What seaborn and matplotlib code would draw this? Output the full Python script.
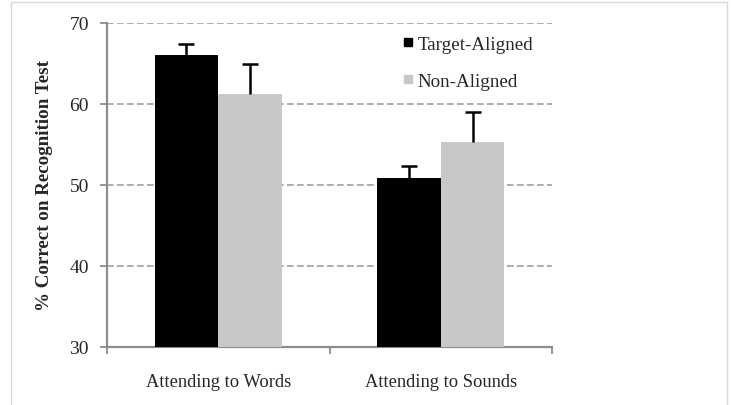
import matplotlib
matplotlib.use("Agg")
import matplotlib.pyplot as plt
from matplotlib.patches import Rectangle
from matplotlib.lines import Line2D
import seaborn as sns
import pandas as pd

categories = ["Attending to Words", "Attending to Sounds"]
conditions = ["Target-Aligned", "Non-Aligned"]
target_aligned = [66.0, 50.9]
non_aligned = [61.2, 55.3]
target_err = [1.4, 1.4]
non_err = [3.8, 3.7]
y_ticks = [30, 40, 50, 60, 70]

df = pd.DataFrame({
    "category": categories * 2,
    "condition": [conditions[0]] * 2 + [conditions[1]] * 2,
    "value": target_aligned + non_aligned,
    "err": target_err + non_err,
})

sns.set_theme(style="white")
plt.rcParams["font.family"] = ["Liberation Serif", "DejaVu Serif"]

fig = plt.figure(figsize=(7.32, 4.06), dpi=100)
ax = fig.add_axes([107 / 732, 1 - 348 / 406, 445 / 732, 324 / 406])

# light frame around the chart area
fig.patches.append(Rectangle((11 / 732, -0.05), 716 / 732, 1 - 3 / 406 + 0.05,
                             transform=fig.transFigure, fill=False,
                             edgecolor="#d9d9d9", linewidth=1.0, zorder=0))

colors = {"Target-Aligned": "#000000", "Non-Aligned": "#c8c8c8"}
sns.barplot(data=df, x="category", y="value", hue="condition",
            hue_order=conditions, order=categories, palette=colors,
            width=0.571, gap=0, errorbar=None, saturation=1,
            edgecolor="none", linewidth=0, ax=ax, legend=False, zorder=3)

# upper-only error bars on each bar
for cont, cond in zip(ax.containers, conditions):
    sub = df[df["condition"] == cond].set_index("category").loc[categories]
    xs = [p.get_x() + p.get_width() / 2 for p in cont.patches]
    eb = ax.errorbar(xs, sub["value"], yerr=[[0] * len(xs), sub["err"]],
                     fmt="none", ecolor="black", elinewidth=1.8, capsize=6,
                     capthick=1.8, zorder=4)
    caps = eb.lines[1]
    if len(caps) == 2:
        caps[0].set_visible(False)

ax.set_ylim(30, 70)
ax.set_xlim(-0.5, 1.5)
ax.set_yticks(y_ticks)
ax.set_yticklabels([str(t) for t in y_ticks], fontsize=14)
ax.set_xticks([0, 1])
ax.set_xticklabels(categories, fontsize=13.3)
ax.set_xlabel("")
ax.set_ylabel("% Correct on Recognition Test", fontsize=13.7,
              fontweight="bold", labelpad=12)

# dashed horizontal gridlines
for t in y_ticks[1:]:
    ax.axhline(t, color="#a0a0a0", linestyle=(0, (4, 2)), linewidth=1.2, zorder=1)

for s in ["top", "right"]:
    ax.spines[s].set_visible(False)
for s in ["left", "bottom"]:
    ax.spines[s].set_color("#8c8c8c")
    ax.spines[s].set_linewidth(1.6)

ax.tick_params(axis="y", which="major", left=True, length=5, width=1.3,
               color="#8c8c8c", pad=8)
ax.tick_params(axis="x", which="major", bottom=False, pad=13)
ax.set_xticks([-0.5, 0.5, 1.5], minor=True)
ax.tick_params(axis="x", which="minor", bottom=True, length=5, width=1.3,
               color="#8c8c8c")

handles = [Line2D([], [], marker="s", linestyle="none", markersize=6,
                  markerfacecolor=colors[c], markeredgecolor=colors[c])
           for c in conditions]
ax.legend(handles, conditions, loc="upper left",
          bbox_to_anchor=(0.617, 1.015), frameon=False, fontsize=13.7,
          handletextpad=0.0, labelspacing=1.05, handlelength=1.0)

fig.savefig("out.png", dpi=100)
